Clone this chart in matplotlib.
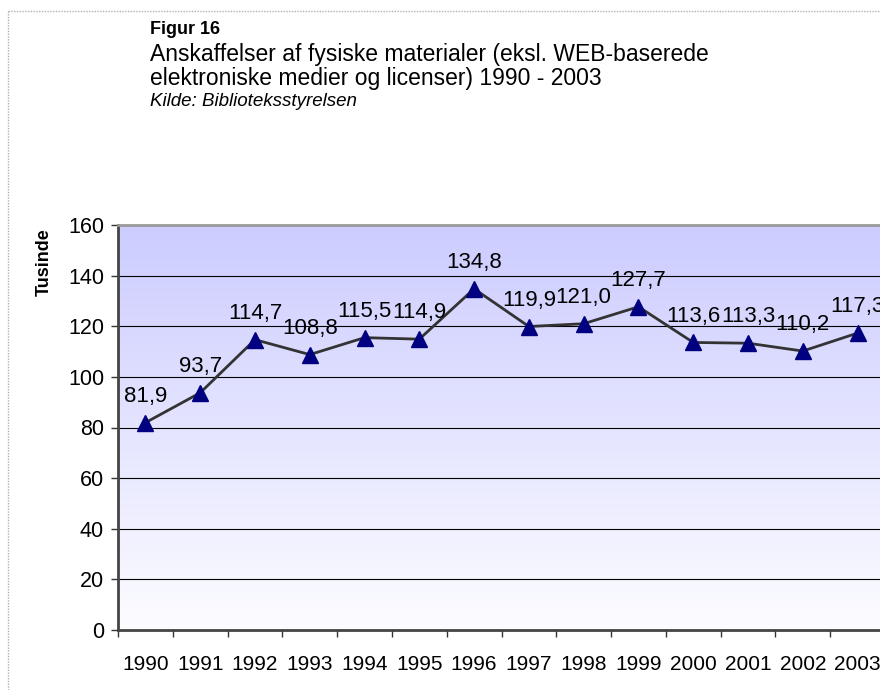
import matplotlib.pyplot as plt
import numpy as np
from matplotlib.lines import Line2D

years = ["1990", "1991", "1992", "1993", "1994", "1995", "1996",
         "1997", "1998", "1999", "2000", "2001", "2002", "2003"]
values = [81.9, 93.7, 114.7, 108.8, 115.5, 114.9, 134.8,
          119.9, 121.0, 127.7, 113.6, 113.3, 110.2, 117.3]
yticks = [0, 20, 40, 60, 80, 100, 120, 140, 160]

plt.rcParams['font.family'] = ['Liberation Sans', 'DejaVu Sans']

fig = plt.figure(figsize=(8.8, 6.9), dpi=100)

# dotted frame around the figure
fig.add_artist(Line2D([8/880, 8/880], [0, 1 - 11/690], transform=fig.transFigure,
                      color="#b0b0b0", lw=1, ls=(0, (1, 1))))
fig.add_artist(Line2D([8/880, 1], [1 - 11/690, 1 - 11/690], transform=fig.transFigure,
                      color="#b0b0b0", lw=1, ls=(0, (1, 1))))

# title block
fig.text(150/880, 1 - 30/690, "Figur 16", fontsize=13, fontweight="bold", va="center")
fig.text(150/880, 1 - 55/690, "Anskaffelser af fysiske materialer (eksl. WEB-baserede",
         fontsize=16.5, va="center")
fig.text(150/880, 1 - 79/690, "elektroniske medier og licenser) 1990 - 2003",
         fontsize=16.5, va="center")
fig.text(150/880, 1 - 102/690, "Kilde: Biblioteksstyrelsen", fontsize=13.5,
         style="italic", va="center")

ax = fig.add_axes([118/880, 1 - 630/690, 767/880, 405/690])
x = np.arange(len(years))

# gradient background: lavender at top, almost white at bottom
grad = np.linspace(0, 1, 256).reshape(-1, 1, 1)
top = np.array([0.80, 0.80, 1.0])
bottom = np.array([0.99, 0.99, 1.0])
img = bottom * (1 - grad) + top * grad
ax.imshow(img, extent=[-0.5, len(years) - 0.5, 0, 160], origin="lower",
          aspect="auto", zorder=0)
ax.set_xlim(-0.5, len(years) - 0.5)
ax.set_ylim(0, 160)

for yv in yticks[1:-1]:
    ax.axhline(yv, color="black", lw=0.8, zorder=1)

ax.plot(x, values, color="#333333", lw=2, zorder=2)
ax.plot(x, values, ls="none", marker="^", ms=12, color="#000080", zorder=3)

for xi, v in zip(x, values):
    ax.annotate(f"{v:.1f}".replace(".", ","), (xi, v), xytext=(0, 19),
                textcoords="offset points", ha="center", va="center", fontsize=16)

ax.set_xticks(np.arange(len(years) + 1) - 0.5)
ax.set_xticklabels([])
ax.set_xticks(x, minor=True)
ax.set_xticklabels(years, minor=True, fontsize=15)
ax.tick_params(axis="x", which="minor", length=0, pad=18)
ax.tick_params(axis="x", which="major", length=5, width=1, color="#333333")
ax.set_yticks(yticks)
ax.set_yticklabels([str(t) for t in yticks], fontsize=15.5)
ax.tick_params(axis="y", length=5, width=1, color="#333333", pad=5)

ax.set_ylabel("Tusinde", fontsize=13, fontweight="bold")
ax.yaxis.set_label_coords(-0.085, 0.909)

ax.spines["left"].set_color("#444444")
ax.spines["left"].set_linewidth(2)
ax.spines["bottom"].set_color("#444444")
ax.spines["bottom"].set_linewidth(2)
ax.spines["top"].set_color("#999999")
ax.spines["top"].set_linewidth(2)
ax.spines["right"].set_visible(False)

fig.savefig("out.png", dpi=100)
